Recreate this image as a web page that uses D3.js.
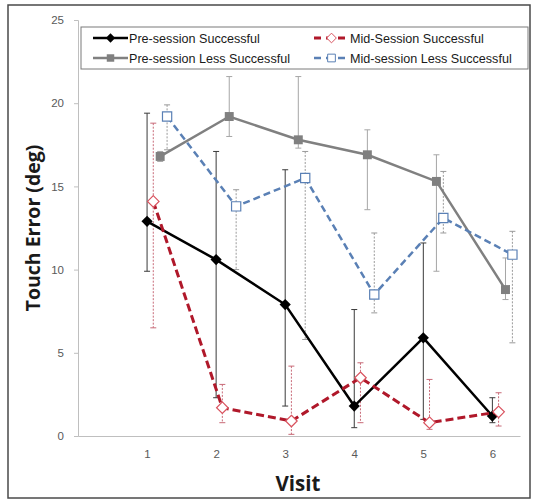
<!DOCTYPE html>
<html><head><meta charset="utf-8">
<script src="https://cdn.jsdelivr.net/npm/d3@7"></script>
<style>body{margin:0;background:#fff}svg{display:block}</style>
</head><body>
<svg id="c" width="533" height="501"></svg>
<script>
const visits = [1, 2, 3, 4, 5, 6];
const yTicks = [0, 5, 10, 15, 20, 25];
const seriesNames = ["Pre-session Successful", "Mid-Session Successful", "Pre-session Less Successful", "Mid-session Less Successful"];
const xOffsets = [0, 0.09, 0.19, 0.29];
const preSucc = [12.9, 10.6, 7.9, 1.8, 5.9, 1.2];
const preSuccHi = [19.4, 17.1, 16.0, 7.6, 11.6, 2.3];
const preSuccLo = [9.9, 2.3, 1.8, 0.5, 1.0, 0.8];
const midSucc = [14.1, 1.7, 0.9, 3.5, 0.8, 1.45];
const midSuccHi = [18.8, 3.1, 4.2, 4.4, 3.4, 2.6];
const midSuccLo = [6.5, 0.8, 0.1, 0.8, 0.4, 0.6];
const preLess = [16.8, 19.2, 17.8, 16.9, 15.3, 8.8];
const preLessHi = [17.1, 21.6, 21.6, 18.4, 16.9, 10.7];
const preLessLo = [16.5, 18.0, 17.3, 13.6, 9.9, 8.2];
const midLess = [19.2, 13.8, 15.5, 8.5, 13.1, 10.9];
const midLessHi = [19.9, 14.8, 17.1, 12.2, 15.9, 12.3];
const midLessLo = [17.2, 10.0, 5.8, 7.4, 12.2, 5.6];

const svg = d3.select("#c");
const x = d3.scaleLinear().domain([0, 6.4]).range([78, 520]);
const y = d3.scaleLinear().domain([0, 25]).range([436, 20]);

// outer frame
svg.append("rect").attr("x", 8).attr("y", 5).attr("width", 522).attr("height", 493)
  .attr("fill", "#fff").attr("stroke", "#4a4a4a").attr("stroke-width", 1.5);

// axes
const yAxis = d3.axisLeft(y).tickValues(yTicks).tickSize(4).tickPadding(10);
const gy = svg.append("g").attr("transform", "translate(78,0)").call(yAxis);
gy.select(".domain").attr("stroke", "#bfbfbf");
gy.selectAll(".tick line").attr("stroke", "#bfbfbf");
gy.selectAll(".tick text").attr("fill", "#595959").attr("font-family", "Liberation Sans, sans-serif").attr("font-size", 11.5);

const xAxis = d3.axisBottom(x).tickValues(visits).tickSize(0).tickPadding(14).tickFormat(d3.format("d"));
const gx = svg.append("g").attr("transform", "translate(0,436)").call(xAxis);
gx.select(".domain").attr("stroke", "#bfbfbf");
gx.selectAll(".tick text").attr("fill", "#595959").attr("font-family", "Liberation Sans, sans-serif").attr("font-size", 11.5);

svg.append("text").attr("transform", "translate(40,228) rotate(-90)").attr("text-anchor", "middle")
  .attr("font-family", "Open Sans, sans-serif").attr("font-weight", "bold").attr("font-size", 19.5)
  .attr("fill", "#1a1a1a").text("Touch Error (deg)");
svg.append("text").attr("x", 298).attr("y", 491).attr("text-anchor", "middle")
  .attr("font-family", "Open Sans, sans-serif").attr("font-weight", "bold").attr("font-size", 20.5)
  .attr("fill", "#1a1a1a").text("Visit");

const series = [
  {v: preSucc, hi: preSuccHi, lo: preSuccLo, off: xOffsets[0], color: "#000", width: 2.5, dash: null,
   errColor: "#3a3a3a", errDash: null, marker: "diamond", mfill: "#000", msize: 80},
  {v: midSucc, hi: midSuccHi, lo: midSuccLo, off: xOffsets[1], color: "#b0182a", width: 3, dash: "8,4",
   errColor: "#c86a78", errDash: "2,1.5", marker: "diamond", mfill: "#fff", mstroke: "#d9535f", msize: 85},
  {v: preLess, hi: preLessHi, lo: preLessLo, off: xOffsets[2], color: "#808080", width: 2.5, dash: null,
   errColor: "#a6a6a6", errDash: null, marker: "square", mfill: "#808080", msize: 80},
  {v: midLess, hi: midLessHi, lo: midLessLo, off: xOffsets[3], color: "#5a80b5", width: 2.5, dash: "7,4",
   errColor: "#9a9a9a", errDash: "2,1.5", marker: "square", mfill: "#fff", mstroke: "#5a80b5", msize: 85}
];

const plot = svg.append("g");
// error bars
series.forEach(s => {
  const g = plot.append("g");
  visits.forEach((vis, i) => {
    const cx = x(vis + s.off);
    g.append("line").attr("x1", cx).attr("x2", cx).attr("y1", y(s.hi[i])).attr("y2", y(s.lo[i]))
      .attr("stroke", s.errColor).attr("stroke-width", 1).attr("stroke-dasharray", s.errDash);
    [s.hi[i], s.lo[i]].forEach(val => {
      g.append("line").attr("x1", cx - 3).attr("x2", cx + 3).attr("y1", y(val)).attr("y2", y(val))
        .attr("stroke", s.errColor).attr("stroke-width", 1);
    });
  });
});
// lines + markers
series.forEach(s => {
  const pts = visits.map((vis, i) => [x(vis + s.off), y(s.v[i])]);
  plot.append("path").attr("d", d3.line()(pts)).attr("fill", "none").attr("stroke", s.color)
    .attr("stroke-width", s.width).attr("stroke-dasharray", s.dash);
  const sym = d3.symbol().type(s.marker === "diamond" ? d3.symbolDiamond2 : d3.symbolSquare).size(s.msize);
  pts.forEach(p => {
    plot.append("path").attr("d", sym()).attr("transform", `translate(${p[0]},${p[1]})`)
      .attr("fill", s.mfill).attr("stroke", s.mstroke || "none").attr("stroke-width", 1.2);
  });
});

// legend
const lg = svg.append("g");
lg.append("rect").attr("x", 81).attr("y", 27).attr("width", 447).attr("height", 42)
  .attr("fill", "#fff").attr("stroke", "#7a7a7a").attr("stroke-width", 1);
const legPos = [[93, 38], [314, 38], [93, 58], [314, 58]];
series.forEach((s, i) => {
  const [lx, ly] = legPos[i];
  lg.append("line").attr("x1", lx).attr("x2", lx + 35).attr("y1", ly).attr("y2", ly)
    .attr("stroke", s.color).attr("stroke-width", s.width).attr("stroke-dasharray", s.dash ? "7,5" : null);
  const sym = d3.symbol().type(s.marker === "diamond" ? d3.symbolDiamond2 : d3.symbolSquare).size(s.msize * 0.7);
  lg.append("path").attr("d", sym()).attr("transform", `translate(${lx + 17.5},${ly})`)
    .attr("fill", s.mfill).attr("stroke", s.mstroke || "none").attr("stroke-width", 1);
  lg.append("text").attr("x", lx + 36).attr("y", ly + 4.5).attr("font-family", "Liberation Sans, sans-serif")
    .attr("font-size", 12.6).attr("fill", "#1a1a1a").text(seriesNames[i]);
});
</script>
</body></html>
